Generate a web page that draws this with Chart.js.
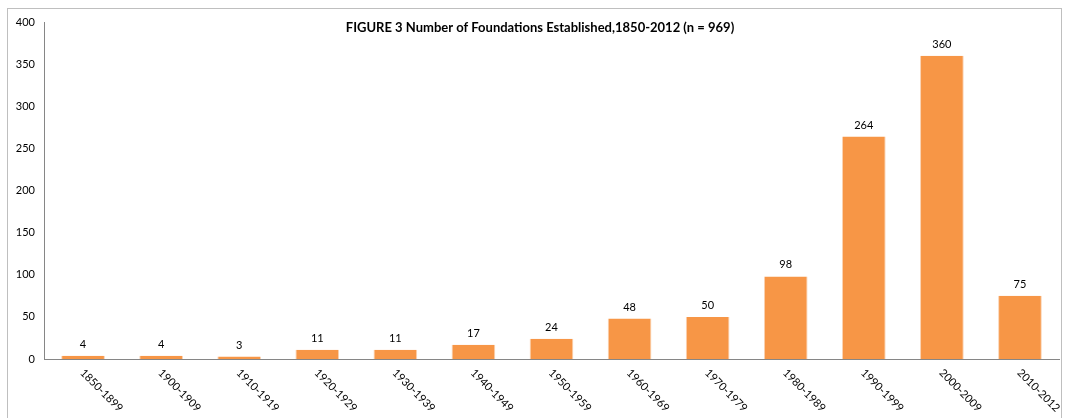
<!DOCTYPE html>
<html>
<head>
<meta charset="utf-8">
<script src="https://cdn.jsdelivr.net/npm/chart.js@4/dist/chart.umd.min.js"></script>
<style>
  body { margin: 0; background: #fff; }
  #frame { position: absolute; left: 7px; top: 8px; width: 1053px; height: 430px; border: 1px solid #bfbfbf; }
  #wrap { position: absolute; left: 0; top: 0; width: 1067px; height: 418px; }
</style>
</head>
<body>
<div id="frame"></div>
<div id="wrap"><canvas id="myChart"></canvas></div>
<script>
const periodes = ['1850-1899', '1900-1909', '1910-1919', '1920-1929', '1930-1939', '1940-1949', '1950-1959',
  '1960-1969', '1970-1979', '1980-1989', '1990-1999', '2000-2009', '2010-2012']
const nombreFondations = [4, 4, 3, 11, 11, 17, 24, 48, 50, 98, 264, 360, 75]
const titre = 'FIGURE 3 Number of Foundations Established,1850-2012 (n = 969)'
const police = 'Lato, "Open Sans", sans-serif'

// titre, étiquettes de valeurs et étiquettes x inclinées
const dessins = {
  id: 'dessins',
  afterDraw(chart) {
    const ctx = chart.ctx
    ctx.save()
    ctx.fillStyle = '#000'
    ctx.font = 'bold 13px ' + police
    ctx.textAlign = 'center'
    ctx.textBaseline = 'middle'
    ctx.fillText(titre, 540, 28)

    ctx.font = '11px ' + police
    ctx.textBaseline = 'bottom'
    const meta = chart.getDatasetMeta(0)
    meta.data.forEach((bar, i) => {
      ctx.fillText(nombreFondations[i], bar.x, bar.y - 6)
    })

    const xs = chart.scales.x
    ctx.textAlign = 'left'
    ctx.textBaseline = 'middle'
    periodes.forEach((p, i) => {
      const x = xs.getPixelForTick(i)
      ctx.save()
      ctx.translate(x - 1, xs.top + 12)
      ctx.rotate(Math.PI / 4)
      ctx.fillText(p, 0, 0)
      ctx.restore()
    })
    ctx.restore()
  }
}

const data = {
  labels: periodes,
  datasets: [{
    data: nombreFondations,
    backgroundColor: '#F79646',
    borderColor: '#FAD3B3',
    borderWidth: { left: 1, right: 1, top: 0, bottom: 0 },
    barPercentage: 0.56,
    categoryPercentage: 1
  }]
}

const config = {
  type: 'bar',
  data: data,
  plugins: [dessins],
  options: {
    responsive: false,
    animation: false,
    layout: { padding: { left: 0, right: 8, top: 22, bottom: 59 } },
    plugins: { legend: { display: false }, tooltip: { enabled: false } },
    scales: {
      x: {
        grid: { display: false, drawTicks: false },
        border: { color: '#868686', width: 1 },
        ticks: { display: false },
        afterFit: (s) => { s.height = 0 }
      },
      y: {
        min: 0,
        max: 400,
        grid: { display: false, drawTicks: false },
        border: { color: '#868686', width: 1 },
        ticks: { stepSize: 50, color: '#000', padding: 9, font: { size: 11, family: police } },
        afterFit: (s) => { s.width = 44 }
      }
    }
  }
}

const canvas = document.getElementById('myChart')
canvas.width = 1067
canvas.height = 418
new Chart(canvas, config)
</script>
</body>
</html>
